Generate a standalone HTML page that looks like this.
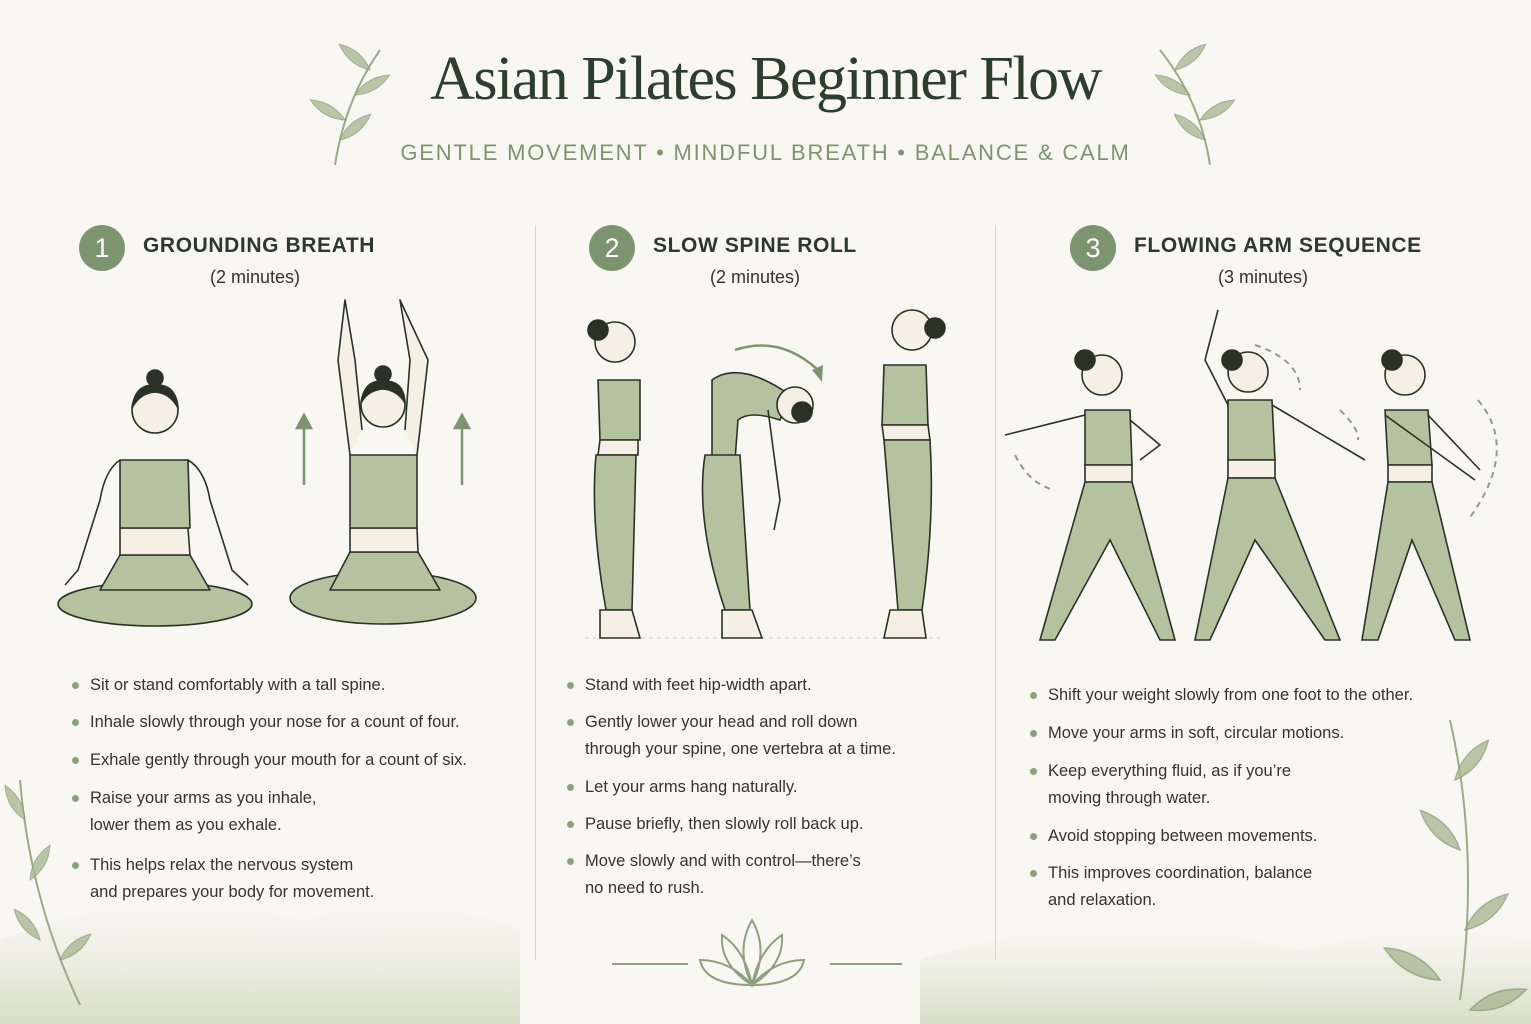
<!DOCTYPE html>
<html><head><meta charset="utf-8"><style>
html,body{margin:0;padding:0}
body{width:1531px;height:1024px;background:#f9f7f2;position:relative;overflow:hidden;font-family:"Liberation Sans",sans-serif;color:#2e3a2b}
.abs{position:absolute}
.title{left:0;width:1531px;top:44px;text-align:center;font-family:"Liberation Serif",serif;font-size:62px;color:#2d3f2c;letter-spacing:-1.5px}
.sub{left:0;width:1531px;top:140px;text-align:center;font-size:22px;letter-spacing:1.8px;color:#7e9470}
.num{width:46px;height:46px;border-radius:50%;background:#7d9470;color:#fff;font-size:27px;text-align:center;line-height:46px}
.h{font-size:21px;font-weight:bold;letter-spacing:0.6px;color:#2d3a2b}
.min{font-size:18px;color:#333;text-align:center;width:200px}
.b{font-size:16.5px;color:#333;line-height:27px}
.b::before{content:"";position:absolute;left:-18px;top:10px;width:7px;height:7px;border-radius:50%;background:#8ca07e}
.vl{width:1px;background:#d6d3c8;top:225px;height:735px}
</style></head><body>
<svg class="abs" style="left:0;top:0" width="1531" height="1024">
<defs>
<linearGradient id="mist" x1="0" y1="0" x2="0" y2="1"><stop offset="0" stop-color="#dfe3d2" stop-opacity="0"/><stop offset="1" stop-color="#d5dcc4" stop-opacity="0.9"/></linearGradient>
<g id="leaf"><path d="M0 0 Q10 -20 0 -40 Q-10 -20 0 0Z" fill="#a9b893" stroke="#8a9b78" stroke-width="1"/></g>
</defs>
<path d="M0 940 Q150 880 300 920 Q420 890 520 930 L520 1024 L0 1024Z" fill="url(#mist)"/>
<path d="M920 960 Q1100 900 1300 950 Q1420 920 1531 940 L1531 1024 L920 1024Z" fill="url(#mist)"/>
<g stroke="#9aab88" fill="none" stroke-width="2"><path d="M80 1005 Q30 900 20 780"/><path d="M1460 1000 Q1480 850 1450 720"/><path d="M335 165 Q345 100 380 50"/><path d="M1210 165 Q1200 100 1160 50"/></g>
<g fill="#b6c3a2" opacity="0.8">
<use href="#leaf" transform="translate(40,940) rotate(-40)"/><use href="#leaf" transform="translate(30,880) rotate(30)"/><use href="#leaf" transform="translate(25,820) rotate(-30)"/><use href="#leaf" transform="translate(60,960) rotate(50)"/>
<use href="#leaf" transform="translate(1465,930) rotate(50) scale(1.4)"/><use href="#leaf" transform="translate(1460,850) rotate(-45) scale(1.4)"/><use href="#leaf" transform="translate(1455,780) rotate(40) scale(1.3)"/><use href="#leaf" transform="translate(1440,980) rotate(-60) scale(1.6)"/><use href="#leaf" transform="translate(1470,1010) rotate(70) scale(1.5)"/>
<use href="#leaf" transform="translate(345,120) rotate(-60)"/><use href="#leaf" transform="translate(355,95) rotate(60)"/><use href="#leaf" transform="translate(370,70) rotate(-50)"/><use href="#leaf" transform="translate(340,140) rotate(50)"/>
<use href="#leaf" transform="translate(1200,120) rotate(60)"/><use href="#leaf" transform="translate(1190,95) rotate(-60)"/><use href="#leaf" transform="translate(1175,70) rotate(50)"/><use href="#leaf" transform="translate(1205,140) rotate(-50)"/>
</g>
<g stroke="#8ea07f" stroke-width="2" fill="none"><line x1="612" y1="964" x2="688" y2="964"/><line x1="830" y1="964" x2="902" y2="964"/>
<path d="M752 985 Q735 950 752 920 Q769 950 752 985Z"/><path d="M752 985 Q720 965 722 935 Q745 950 752 985Z"/><path d="M752 985 Q784 965 782 935 Q759 950 752 985Z"/><path d="M752 985 Q705 985 700 960 Q730 960 752 985Z"/><path d="M752 985 Q799 985 804 960 Q774 960 752 985Z"/></g>
<g stroke="#2a3226" stroke-width="1.6" stroke-linejoin="round">
<ellipse cx="155" cy="604" rx="97" ry="22" fill="#b4c2a0"/>
<path d="M120 555 L190 555 L210 590 L100 590Z" fill="#b4c2a0"/>
<path d="M120 528 L188 528 L190 555 L120 555Z" fill="#f6efe6"/>
<path d="M120 460 L188 460 L190 528 L120 528Z" fill="#b4c2a0"/>
<path d="M120 460 Q105 470 100 500 L78 570 L65 585 M188 460 Q205 470 210 500 L232 570 L248 585" fill="none"/>
<circle cx="155" cy="410" r="23" fill="#f6efe6"/><path d="M132 408 Q135 384 155 385 Q176 384 178 408 Q170 393 155 392 Q140 393 132 408Z" fill="#2a3226"/><circle cx="155" cy="378" r="8" fill="#2a3226"/>
<ellipse cx="383" cy="598" rx="93" ry="26" fill="#b4c2a0"/>
<path d="M350 552 L418 552 L440 590 L330 590Z" fill="#b4c2a0"/>
<path d="M350 528 L417 528 L418 552 L350 552Z" fill="#f6efe6"/>
<path d="M350 455 L417 455 L417 528 L350 528Z" fill="#b4c2a0"/>
<path d="M350 455 L338 360 L345 300 L355 360 L362 430 M417 455 L428 360 L400 300 L410 360 L405 430" fill="#f6efe6"/>
<circle cx="383" cy="405" r="22" fill="#f6efe6"/><path d="M361 403 Q364 380 383 381 Q404 380 405 403 Q397 390 383 389 Q368 390 361 403Z" fill="#2a3226"/><circle cx="383" cy="374" r="8" fill="#2a3226"/>
</g>
<g stroke="#7d9470" stroke-width="2.5" fill="#7d9470"><line x1="304" y1="485" x2="304" y2="425"/><path d="M297 428 L304 415 L311 428Z"/><line x1="462" y1="485" x2="462" y2="425"/><path d="M455 428 L462 415 L469 428Z"/></g>
<line x1="585" y1="638" x2="940" y2="638" stroke="#ccc" stroke-dasharray="4 4"/>
<g stroke="#2a3226" stroke-width="1.6" fill="#b4c2a0">
<path d="M598 380 L640 380 L640 440 L600 440Z"/><path d="M600 440 L638 440 L638 455 L598 455Z" fill="#f6efe6"/>
<path d="M596 455 L636 455 L632 610 L606 610 Q590 520 596 455Z"/><path d="M600 610 L632 610 L640 638 L600 638Z" fill="#f6efe6"/>
<circle cx="615" cy="342" r="20" fill="#f6efe6"/><circle cx="598" cy="330" r="10" fill="#2a3226"/>
<path d="M712 380 Q740 360 790 395 L780 420 Q750 410 738 420 L735 460 L712 460Z"/>
<path d="M705 455 L740 455 L750 610 L725 610 Q695 520 705 455Z"/><path d="M722 610 L752 610 L762 638 L722 638Z" fill="#f6efe6"/>
<path d="M768 410 L780 500 L774 530" fill="none"/>
<circle cx="795" cy="405" r="18" fill="#f6efe6"/><circle cx="802" cy="412" r="10" fill="#2a3226"/>
<path d="M884 365 L926 365 L928 425 L882 425Z"/><path d="M882 425 L928 425 L930 440 L884 440Z" fill="#f6efe6"/>
<path d="M884 440 L930 440 Q935 520 922 610 L898 610 Z"/><path d="M890 610 L922 610 L926 638 L884 638Z" fill="#f6efe6"/>
<circle cx="912" cy="330" r="20" fill="#f6efe6"/><circle cx="935" cy="328" r="10" fill="#2a3226"/>
</g>
<path d="M735 350 Q780 335 818 370" fill="none" stroke="#7d9470" stroke-width="2.5"/><path d="M812 370 L822 382 L823 365Z" fill="#7d9470"/>
<g stroke="#2a3226" stroke-width="1.6" fill="#b4c2a0">
<path d="M1085 410 L1130 410 L1132 465 L1085 465Z"/><path d="M1085 465 L1132 465 L1132 482 L1085 482Z" fill="#f6efe6"/>
<path d="M1085 482 L1132 482 L1175 640 L1160 640 L1110 540 L1055 640 L1040 640Z"/>
<path d="M1085 415 L1005 435 M1130 420 L1160 445 L1140 460" fill="none"/>
<circle cx="1102" cy="375" r="20" fill="#f6efe6"/><circle cx="1085" cy="360" r="10" fill="#2a3226"/>
<path d="M1228 400 L1272 400 L1275 460 L1228 460Z"/><path d="M1228 460 L1275 460 L1275 478 L1228 478Z" fill="#f6efe6"/>
<path d="M1228 478 L1275 478 L1340 640 L1325 640 L1255 540 L1210 640 L1195 640Z"/>
<path d="M1228 405 L1205 360 L1218 310 M1272 405 L1365 460" fill="none"/>
<circle cx="1248" cy="372" r="20" fill="#f6efe6"/><circle cx="1232" cy="360" r="10" fill="#2a3226"/>
<path d="M1385 410 L1428 410 L1432 465 L1388 465Z"/><path d="M1388 465 L1432 465 L1432 482 L1388 482Z" fill="#f6efe6"/>
<path d="M1388 482 L1432 482 L1470 640 L1455 640 L1412 540 L1378 640 L1362 640Z"/>
<path d="M1385 415 L1475 480 M1428 415 L1480 470" fill="none"/>
<circle cx="1405" cy="375" r="20" fill="#f6efe6"/><circle cx="1392" cy="360" r="10" fill="#2a3226"/>
</g>
<g fill="none" stroke="#8ea07f" stroke-width="2" stroke-dasharray="6 5"><path d="M1015 455 Q1030 485 1055 490"/><path d="M1255 345 Q1300 360 1300 390"/><path d="M1340 410 Q1360 430 1358 440"/><path d="M1478 400 Q1520 450 1468 520"/></g>
</svg>
<div class="abs title">Asian Pilates Beginner Flow</div>
<div class="abs sub">GENTLE MOVEMENT • MINDFUL BREATH • BALANCE &amp; CALM</div>
<div class="abs vl" style="left:535px"></div><div class="abs vl" style="left:995px"></div>
<div class="abs num" style="left:79px;top:225px">1</div><div class="abs h" style="left:143px;top:234px">GROUNDING BREATH</div><div class="abs min" style="left:155px;top:267px">(2 minutes)</div>
<div class="abs num" style="left:589px;top:225px">2</div><div class="abs h" style="left:653px;top:234px">SLOW SPINE ROLL</div><div class="abs min" style="left:655px;top:267px">(2 minutes)</div>
<div class="abs num" style="left:1070px;top:225px">3</div><div class="abs h" style="left:1134px;top:234px">FLOWING ARM SEQUENCE</div><div class="abs min" style="left:1163px;top:267px">(3 minutes)</div>
<div class="abs b" style="left:90px;top:672px">Sit or stand comfortably with a tall spine.</div>
<div class="abs b" style="left:90px;top:709px">Inhale slowly through your nose for a count of four.</div>
<div class="abs b" style="left:90px;top:747px">Exhale gently through your mouth for a count of six.</div>
<div class="abs b" style="left:90px;top:785px">Raise your arms as you inhale,<br>lower them as you exhale.</div>
<div class="abs b" style="left:90px;top:852px">This helps relax the nervous system<br>and prepares your body for movement.</div>
<div class="abs b" style="left:585px;top:672px">Stand with feet hip-width apart.</div>
<div class="abs b" style="left:585px;top:709px">Gently lower your head and roll down<br>through your spine, one vertebra at a time.</div>
<div class="abs b" style="left:585px;top:774px">Let your arms hang naturally.</div>
<div class="abs b" style="left:585px;top:811px">Pause briefly, then slowly roll back up.</div>
<div class="abs b" style="left:585px;top:848px">Move slowly and with control—there’s<br>no need to rush.</div>
<div class="abs b" style="left:1048px;top:682px">Shift your weight slowly from one foot to the other.</div>
<div class="abs b" style="left:1048px;top:720px">Move your arms in soft, circular motions.</div>
<div class="abs b" style="left:1048px;top:758px">Keep everything fluid, as if you’re<br>moving through water.</div>
<div class="abs b" style="left:1048px;top:823px">Avoid stopping between movements.</div>
<div class="abs b" style="left:1048px;top:860px">This improves coordination, balance<br>and relaxation.</div>
</body></html>
